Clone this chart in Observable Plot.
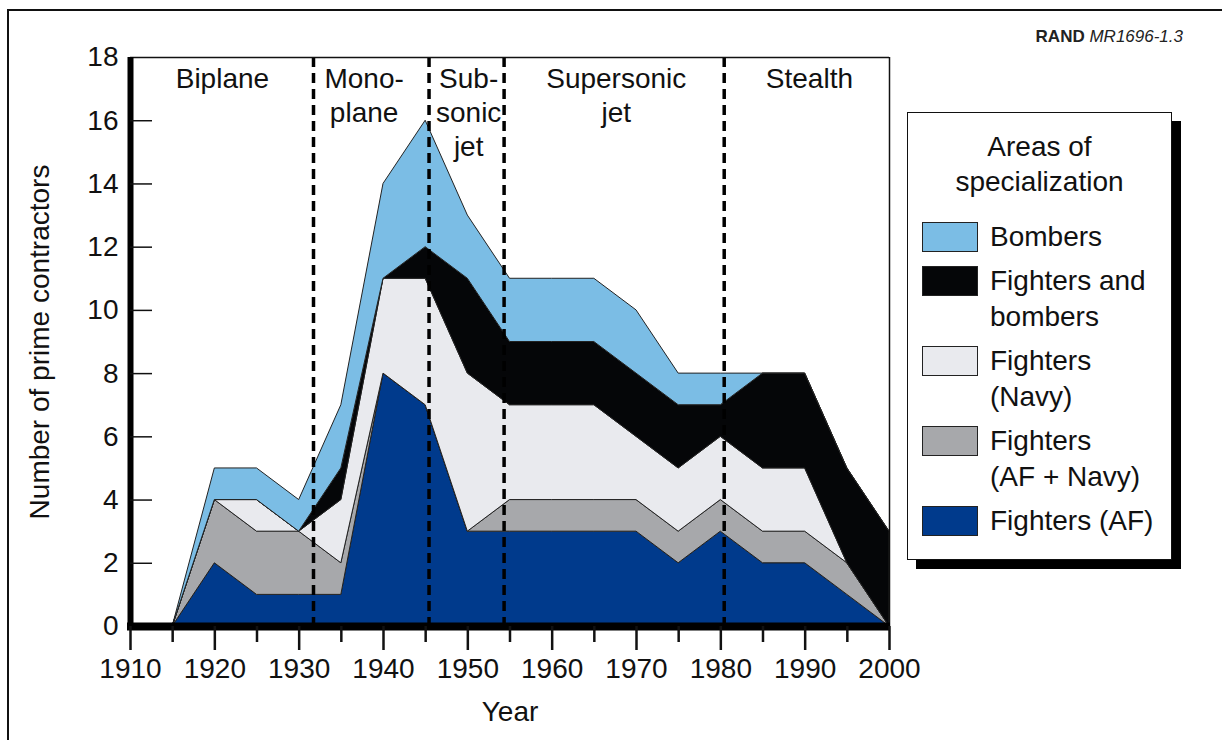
<!DOCTYPE html>
<html>
<head>
<meta charset="utf-8">
<script src="https://cdn.jsdelivr.net/npm/d3@7"></script>
<script src="https://cdn.jsdelivr.net/npm/@observablehq/plot@0.6"></script>
<style>
  html, body { margin: 0; padding: 0; background: #fff; overflow: hidden; }
  #page { position: relative; width: 1222px; height: 740px; overflow: hidden; font-family: "Liberation Sans", Arial, Helvetica, sans-serif; color: #111; }
  #outer { position: absolute; left: 7px; top: 9px; width: 1300px; height: 800px; border: 2px solid #111; }
  #chart { position: absolute; left: 0; top: 0; }
  #rand { position: absolute; right: 39px; top: 27px; font-size: 17px; white-space: nowrap; color: #222; }
  #rand b { font-weight: bold; }
  #rand i { font-style: italic; }
  #legend { position: absolute; left: 907px; top: 112px; width: 263px; height: 446px; border: 1.5px solid #111; background: #fff; box-shadow: 9px 9px 0 #000; }
  #legend .title { position: absolute; left: 0; right: 0; top: 16px; text-align: center; font-size: 28px; line-height: 35px; }
  #legend .items { position: absolute; left: 14px; top: 106px; }
  #legend .item { display: flex; align-items: flex-start; margin-bottom: 8px; }
  #legend .sw { width: 54px; height: 28px; border: 1.5px solid #222; margin-top: 2.5px; margin-right: 12px; flex: none; }
  #legend .lab { font-size: 28px; line-height: 36px; white-space: pre-line; }
</style>
</head>
<body>
<div id="page">
  <div id="outer"></div>
  <div id="chart"></div>
  <div id="legend">
    <div class="title">Areas of<br>specialization</div>
    <div class="items" id="items"></div>
  </div>
  <div id="rand"><b>RAND</b> <i>MR1696-1.3</i></div>
</div>
<script>
// ---- data ----
const years = [1910, 1915, 1920, 1925, 1930, 1935, 1940, 1945, 1950, 1955, 1960, 1965, 1970, 1975, 1980, 1985, 1990, 1995, 2000];
const fightersAF       = [0, 0, 2, 1, 1, 1, 8, 7, 3, 3, 3, 3, 3, 2, 3, 2, 2, 1, 0];
const fightersAFNavy   = [0, 0, 2, 2, 2, 1, 0, 0, 0, 1, 1, 1, 1, 1, 1, 1, 1, 1, 0];
const fightersNavy     = [0, 0, 0, 1, 0, 2, 3, 4, 5, 3, 3, 3, 2, 2, 2, 2, 2, 0, 0];
const fightersBombers  = [0, 0, 0, 0, 0, 1, 0, 1, 3, 2, 2, 2, 2, 2, 1, 3, 3, 3, 3];
const bombers          = [0, 0, 1, 1, 1, 2, 3, 4, 2, 2, 2, 2, 2, 1, 1, 0, 0, 0, 0];

// stacking order, bottom to top
const categories = ["Fighters (AF)", "Fighters (AF + Navy)", "Fighters (Navy)", "Fighters and bombers", "Bombers"];
const categoryColors = ["#003a8c", "#a7a8ab", "#e9eaee", "#050608", "#7bbde5"];
const legendOrder = ["Bombers", "Fighters and bombers", "Fighters (Navy)", "Fighters (AF + Navy)", "Fighters (AF)"];
const legendLabels = ["Bombers", "Fighters and\nbombers", "Fighters\n(Navy)", "Fighters\n(AF + Navy)", "Fighters (AF)"];

const eraBoundaries = [1931.7, 1945.4, 1954.3, 1980.4];
const eraLabels = ["Biplane", "Mono-\nplane", "Sub-\nsonic\njet", "Supersonic\njet", "Stealth"];
const eraLabelYears = [1920.9, 1937.7, 1950.1, 1967.6, 1990.5];

const xMajorTicks = [1910, 1920, 1930, 1940, 1950, 1960, 1970, 1980, 1990, 2000];
const xMinorTicks = [1915, 1925, 1935, 1945, 1955, 1965, 1975, 1985, 1995];
const yTicks = [0, 2, 4, 6, 8, 10, 12, 14, 16, 18];
const yInnerTicks = [2, 4, 6, 8, 10, 12, 14, 16];

// ---- build table ----
const seriesValues = [fightersAF, fightersAFNavy, fightersNavy, fightersBombers, bombers];
const table = categories.flatMap((cat, k) => years.map((year, i) => ({year, cat, value: seriesValues[k][i]})));

const font = '"Liberation Sans", Arial, Helvetica, sans-serif';

const chart = Plot.plot({
  width: 930,
  height: 740,
  marginLeft: 130,
  marginRight: 41,
  marginTop: 57,
  marginBottom: 114,
  style: {fontFamily: font, fontSize: "28px", color: "#111", background: "transparent"},
  x: {domain: [1910, 2000], label: null},
  y: {domain: [0, 18], label: null},
  color: {domain: categories, range: categoryColors},
  marks: [
    Plot.areaY(table, {x: "year", y: "value", fill: "cat", order: categories, stroke: "#222", strokeWidth: 1}),
    Plot.ruleX(eraBoundaries, {stroke: "#000", strokeWidth: 3.5, strokeDasharray: "10,6"}),
    Plot.ruleY([18], {stroke: "#111", strokeWidth: 1.5}),
    Plot.ruleX([2000], {stroke: "#111", strokeWidth: 1.5}),
    Plot.ruleX([1910], {stroke: "#000", strokeWidth: 6}),
    Plot.ruleY([0], {stroke: "#000", strokeWidth: 8, insetLeft: -3, insetRight: -1}),
    Plot.axisX({ticks: xMajorTicks, tickSize: 24, tickPadding: 8, strokeWidth: 2.5, tickFormat: d => String(d), fontSize: 28, label: null}),
    Plot.axisX({ticks: xMinorTicks, tickSize: 16, strokeWidth: 2.5, text: null, label: null}),
    Plot.axisY({ticks: yTicks, tickSize: 0, tickPadding: 12, fontSize: 28, label: null}),
    Plot.axisY({ticks: yInnerTicks, tickSize: 22, dx: 22, strokeWidth: 1.5, text: null, label: null}),
    Plot.text(eraLabels, {x: eraLabelYears, text: d => d, frameAnchor: "top", lineAnchor: "top", dy: 7, lineHeight: 1.2, fontSize: 28, fill: "#111"}),
    Plot.text(["Year"], {frameAnchor: "bottom", dy: 86, lineAnchor: "middle", fontSize: 28, fill: "#111"}),
    Plot.text(["Number of prime contractors"], {frameAnchor: "left", textAnchor: "middle", lineAnchor: "middle", dx: -90, rotate: -90, fontSize: 28, fill: "#111"})
  ]
});
document.getElementById("chart").appendChild(chart);

// ---- legend ----
const items = document.getElementById("items");
legendOrder.forEach((cat, i) => {
  const row = document.createElement("div");
  row.className = "item";
  const sw = document.createElement("div");
  sw.className = "sw";
  sw.style.background = categoryColors[categories.indexOf(cat)];
  const lab = document.createElement("div");
  lab.className = "lab";
  lab.textContent = legendLabels[i];
  row.appendChild(sw);
  row.appendChild(lab);
  items.appendChild(row);
});
</script>
</body>
</html>
